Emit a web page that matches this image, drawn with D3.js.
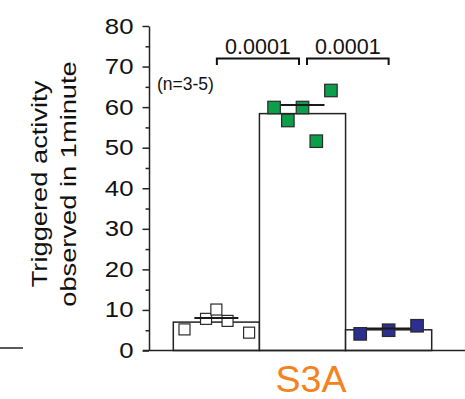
<!DOCTYPE html>
<html>
<head>
<meta charset="utf-8">
<script src="https://cdn.jsdelivr.net/npm/d3@7"></script>
<style>
  html, body { margin: 0; padding: 0; background: #fff; }
  svg { display: block; font-family: "Liberation Sans", Arial, sans-serif; }
</style>
</head>
<body>
<svg id="chart" width="465" height="399"></svg>
<script>
// data
const groups = ["Group 1", "Group 2", "Group 3"];
const barMeans = [7.0, 58.4, 5.1];
const lineValues = [8.0, 60.5, 5.4];
const points1 = [5.2, 7.8, 10.1, 7.3, 4.4];
const points2 = [59.9, 56.7, 59.9, 51.6, 64.1];
const points3 = [4.1, 5.0, 6.1];
const jitter1 = [-0.37, -0.12, 0, 0.13, 0.38];
const jitter2 = [-0.33, -0.17, 0, 0.16, 0.33];
const jitter3 = [-0.33, 0, 0.33];
const pointFills = ["#ffffff", "#0b9e4b", "#2b2f8f"];
const pValues = ["0.0001", "0.0001"];
const yTicks = [0, 10, 20, 30, 40, 50, 60, 70, 80];
const yMinorTicks = [5, 15, 25, 35, 45, 55, 65, 75];

const svg = d3.select("#chart");
const ink = "#222";

const x = d3.scaleBand().domain(groups).range([173.3, 431.7]).padding(0);
const y = d3.scaleLinear().domain([0, 80]).range([350.5, 26]);
const bw = x.bandwidth();
const cx = g => x(g) + bw / 2;

// stray rule at far left
svg.append("line")
  .attr("x1", 0).attr("x2", 23).attr("y1", 348).attr("y2", 348)
  .attr("stroke", ink).attr("stroke-width", 1.5);

// bars
svg.append("g").selectAll("rect")
  .data(groups)
  .join("rect")
  .attr("x", d => x(d))
  .attr("y", (d, i) => y(barMeans[i]))
  .attr("width", bw)
  .attr("height", (d, i) => y(0) - y(barMeans[i]))
  .attr("fill", "#fff")
  .attr("stroke", ink)
  .attr("stroke-width", 1.5);

// baseline
svg.append("line")
  .attr("x1", 143).attr("x2", 465)
  .attr("y1", y(0)).attr("y2", y(0))
  .attr("stroke", ink).attr("stroke-width", 1.5);

// y axis, major + minor ticks
const sx = 1.17;
const yAxis = svg.append("g")
  .attr("transform", "translate(149,0)")
  .call(d3.axisLeft(y).tickValues(yTicks).tickSize(6.5).tickSizeOuter(0).tickPadding(9));
yAxis.selectAll("path, line").attr("stroke", ink).attr("stroke-width", 1.5);
yAxis.selectAll("text")
  .attr("font-size", 22)
  .attr("fill", "#111")
  .attr("font-family", "Liberation Sans, Arial, sans-serif")
  .attr("x", -15.5 / sx)
  .attr("transform", `scale(${sx},1)`);

const yMinor = svg.append("g")
  .attr("transform", "translate(149,0)")
  .call(d3.axisLeft(y).tickValues(yMinorTicks).tickSize(3.5).tickSizeOuter(0).tickFormat(""));
yMinor.select(".domain").remove();
yMinor.selectAll("line").attr("stroke", ink).attr("stroke-width", 1.5);

// y label
const yl = svg.append("g").attr("transform", "translate(0,184)");
["Triggered activity", "observed in 1minute"].forEach((t, i) => {
  yl.append("text")
    .attr("transform", `translate(${47 + i * 29},0) rotate(-90) scale(1.24,1)`)
    .attr("text-anchor", "middle")
    .attr("font-size", 22)
    .attr("fill", "#111")
    .text(t);
});

// points
const sets = [points1, points2, points3];
const jits = [jitter1, jitter2, jitter3];
sets.forEach((vals, gi) => {
  const s = gi === 0 ? 11 : 12.5;
  svg.append("g").selectAll("rect")
    .data(vals)
    .join("rect")
    .attr("x", (d, i) => cx(groups[gi]) + jits[gi][i] * bw - s / 2)
    .attr("y", d => y(d) - s / 2)
    .attr("width", s)
    .attr("height", s)
    .attr("fill", pointFills[gi])
    .attr("stroke", "#2a2a2a")
    .attr("stroke-width", 1.2);
});

// mean lines
svg.append("g").selectAll("line")
  .data(groups)
  .join("line")
  .attr("x1", d => cx(d) - 22)
  .attr("x2", d => cx(d) + 22)
  .attr("y1", (d, i) => y(lineValues[i]))
  .attr("y2", (d, i) => y(lineValues[i]))
  .attr("stroke", "#1a1a1a")
  .attr("stroke-width", 2);

// significance brackets
const brackets = [
  [cx(groups[0]) + 0.5, cx(groups[1]) - 3.5],
  [cx(groups[1]) + 4.5, cx(groups[2])]
];
const by = 58.5;
brackets.forEach(([a, b], i) => {
  svg.append("path")
    .attr("d", `M${a},${by + 6.5}V${by}H${b}V${by + 6.5}`)
    .attr("fill", "none")
    .attr("stroke", "#111")
    .attr("stroke-width", 2);
  svg.append("text")
    .attr("x", (a + b) / 2)
    .attr("y", by - 4.5)
    .attr("text-anchor", "middle")
    .attr("font-size", 21.5)
    .attr("fill", "#111")
    .text(pValues[i]);
});

// n annotation
svg.append("text")
  .attr("x", 157)
  .attr("y", 90)
  .attr("font-size", 17.5)
  .attr("fill", "#111")
  .text("(n=3-5)");

// panel label
svg.append("text")
  .attr("x", 311)
  .attr("y", 392)
  .attr("text-anchor", "middle")
  .attr("font-size", 37.5)
  .attr("fill", "#f5821f")
  .text("S3A");
</script>
</body>
</html>
